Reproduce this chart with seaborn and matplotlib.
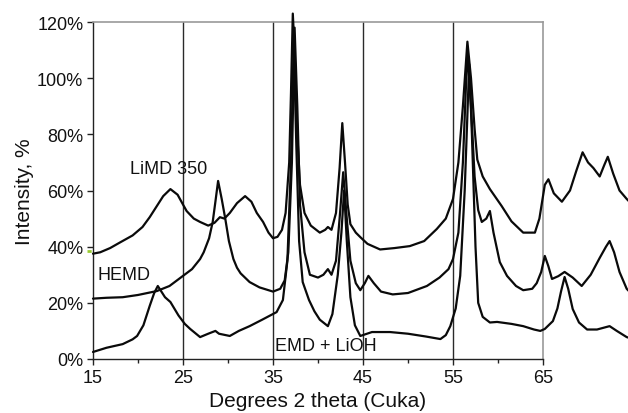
import matplotlib
matplotlib.use("Agg")
import matplotlib.pyplot as plt
import seaborn as sns
import pandas as pd
from matplotlib.ticker import MultipleLocator, PercentFormatter

# Diffraction scans, intensity in percent against 2-theta (degrees, Cu K-alpha)
limd_x = [15.0, 15.8, 16.9, 18.0, 19.4, 20.5, 21.3, 22.1, 22.8, 23.6, 24.4, 25.0,
          25.4, 26.2, 26.9, 27.8, 28.5, 29.1, 29.6, 30.2, 31.0, 31.9, 32.6, 33.2,
          33.9, 34.5, 35.0, 35.5, 36.0, 36.4, 36.8, 37.0, 37.2, 37.4, 37.7, 38.0,
          38.5, 39.2, 40.2, 40.8, 41.1, 41.5, 42.0, 42.4, 42.7, 43.0, 43.3, 43.6,
          44.2, 44.7, 45.5, 46.9, 48.5, 50.2, 51.8, 53.2, 54.2, 55.0, 55.6, 56.1,
          56.6, 57.0, 57.4, 57.7, 58.3, 59.1, 60.4, 61.5, 62.8, 64.1, 64.6, 65.2,
          65.6, 66.2, 67.1, 68.0, 68.7, 69.4, 70.0, 70.6, 71.3, 71.8, 72.2, 72.8,
          73.5, 74.3, 74.6]
limd_y = [37.5, 38.0, 39.5, 41.5, 44.0, 47.0, 50.5, 54.5, 58.0, 60.5, 58.5, 55.0,
          52.7, 50.0, 48.8, 47.5, 48.5, 50.5, 50.0, 52.0, 55.5, 58.0, 56.0, 52.0,
          48.8, 45.0, 43.0, 43.5, 46.0, 52.0, 70.0, 95.0, 123.0, 110.0, 80.0, 62.0,
          52.0, 47.5, 45.0, 46.0, 47.0, 46.0, 52.0, 68.0, 84.0, 70.0, 55.0, 48.0,
          45.0, 43.4, 41.0, 39.0, 39.5, 40.2, 42.0, 46.3, 50.0, 57.0, 70.0, 90.0,
          113.0, 100.0, 82.0, 71.0, 65.0, 60.5, 54.5, 49.0, 45.0, 45.0, 50.0, 62.0,
          64.0, 59.0, 56.0, 60.0, 67.0, 73.6, 70.0, 68.0, 65.0, 69.0, 72.0, 66.0,
          60.0, 57.0, 56.0]

hemd_x = [15.0, 16.5, 18.3, 20.0, 22.1, 23.5, 25.0, 26.0, 26.9, 27.3, 27.9, 28.3,
          28.6, 28.9, 29.3, 29.7, 30.1, 30.6, 31.0, 31.4, 32.4, 33.5, 35.0, 35.8,
          36.3, 36.7, 37.1, 37.4, 37.7, 38.0, 38.5, 39.1, 40.0, 40.6, 41.1, 41.5,
          42.0, 42.4, 42.8, 43.2, 43.6, 44.2, 44.7, 45.2, 45.6, 46.2, 47.0, 48.3,
          50.0, 52.1, 53.5, 54.5, 55.0, 55.6, 56.1, 56.6, 57.0, 57.4, 57.8, 58.2,
          58.7, 59.1, 59.5, 60.2, 61.0, 62.0, 62.8, 63.8, 64.3, 64.8, 65.2, 65.6,
          66.0, 66.7, 67.4, 68.3, 69.3, 70.3, 71.3, 72.0, 72.4, 72.9, 73.5, 74.3,
          74.6]
hemd_y = [21.5, 21.8, 22.0, 22.8, 24.2, 26.0, 29.6, 32.0, 35.6, 38.0, 43.0, 48.8,
          56.0, 63.4, 57.0, 49.9, 42.0, 35.6, 32.5, 30.5, 27.4, 25.5, 24.0, 25.0,
          28.0, 38.0, 70.0, 118.0, 90.0, 55.0, 38.0, 30.0, 29.0, 30.0, 32.0, 30.0,
          35.0, 50.0, 66.5, 50.0, 35.0, 27.0, 24.5, 27.0, 29.6, 27.0, 24.0, 23.0,
          23.5, 26.0, 29.0, 32.0, 35.6, 45.0, 70.0, 110.0, 90.0, 65.0, 53.0, 48.8,
          50.0, 52.7, 45.0, 34.5, 29.6, 26.0, 24.5, 25.0, 27.0, 31.0, 36.7, 33.0,
          28.5, 29.5, 31.0, 29.0, 26.0, 30.0, 36.0, 40.0, 42.0, 38.0, 31.0, 25.0,
          24.0]

emd_x = [15.0, 16.5, 18.3, 19.4, 19.9, 20.6, 21.3, 21.8, 22.2, 22.6, 23.0, 23.6,
         24.5, 25.2, 25.8, 26.9, 27.8, 28.6, 29.0, 30.2, 31.2, 32.4, 33.8, 35.4,
         36.1, 36.6, 37.0, 37.3, 37.6, 37.9, 38.3, 39.0, 39.6, 40.2, 41.1, 41.6,
         42.2, 42.6, 42.9, 43.2, 43.6, 44.1, 44.7, 46.0, 48.0, 50.0, 52.0, 53.6,
         54.2, 54.7, 55.3, 55.8, 56.3, 56.8, 57.1, 57.5, 57.8, 58.3, 59.1, 59.9,
         61.5, 62.8, 64.0, 64.7, 65.2, 66.1, 66.6, 67.0, 67.4, 67.8, 68.3, 69.0,
         69.9, 71.0, 72.4, 73.2, 74.3, 74.6]
emd_y = [2.5, 4.0, 5.3, 7.0, 8.2, 12.0, 18.9, 23.5, 26.0, 24.0, 22.0, 20.3,
         15.5, 12.5, 10.7, 7.8, 9.0, 10.0, 9.0, 8.2, 10.0, 11.7, 14.0, 16.7,
         21.0, 35.0, 70.0, 112.0, 75.0, 42.0, 27.4, 21.0, 17.0, 14.0, 11.7, 16.0,
         30.0, 45.0, 60.0, 42.0, 22.0, 12.0, 8.2, 9.6, 9.6, 9.0, 8.0, 7.1,
         8.5, 11.7, 18.0, 29.6, 60.0, 105.0, 80.0, 40.0, 20.0, 15.0, 13.0, 13.2,
         12.5, 11.7, 10.5, 10.0, 10.7, 13.5, 18.0, 24.0, 29.2, 25.0, 17.8, 13.0,
         10.5, 10.5, 11.7, 10.0, 7.8, 7.5]

series_names = ["LiMD 350", "HEMD", "EMD + LiOH"]
x_ticks = [15, 25, 35, 45, 55, 65]
y_ticks = [0, 20, 40, 60, 80, 100, 120]

frames = []
for name, xs, ys in zip(series_names, [limd_x, hemd_x, emd_x], [limd_y, hemd_y, emd_y]):
    frames.append(pd.DataFrame({"theta": xs, "intensity": ys, "sample": name}))
data = pd.concat(frames, ignore_index=True)

sns.set_theme(style="white")
plt.rcParams["font.family"] = ["Liberation Sans", "DejaVu Sans"]

fig = plt.figure(figsize=(6.28, 4.14), dpi=100)
ax = fig.add_axes([93 / 628, 1 - 360 / 414, 450 / 628, 337 / 414])

# Vertical reference lines at the labelled angles
for xv in x_ticks[1:-1]:
    ax.axvline(xv, color="#2a2a2a", lw=1.0, zorder=1)

for name in series_names:
    sns.lineplot(data=data[data["sample"] == name], x="theta", y="intensity",
                 ax=ax, color="#0a0a0a", lw=1.6, sort=False, estimator=None,
                 clip_on=False, zorder=3, legend=False)

ax.set_xlim(15, 65)
ax.set_ylim(0, 120)
ax.set_xticks(x_ticks)
ax.xaxis.set_minor_locator(MultipleLocator(5))
ax.set_yticks(y_ticks)
ax.yaxis.set_major_formatter(PercentFormatter(decimals=0))

for side in ["left", "bottom"]:
    ax.spines[side].set_color("#222222")
    ax.spines[side].set_linewidth(1.0)
for side in ["top", "right"]:
    ax.spines[side].set_color("#999999")
    ax.spines[side].set_linewidth(1.2)
    ax.spines[side].set_visible(True)

ax.tick_params(axis="both", which="major", direction="out", length=4, width=1,
               color="#222222", labelsize=13, labelcolor="#111111", pad=3,
               bottom=True, left=True)
ax.tick_params(axis="x", which="minor", direction="out", length=3, width=1,
               color="#222222", bottom=True)

ax.set_xlabel("Degrees 2 theta (Cuka)", fontsize=15, color="#111111", labelpad=4)
ax.set_ylabel("Intensity, %", fontsize=15, color="#111111", labelpad=2)

# Curve labels
ax.text(19.1, 68, "LiMD 350", fontsize=13, color="#111111", va="center", zorder=2)
ax.text(15.5, 30, "HEMD", fontsize=13, color="#111111", va="center", zorder=2)
ax.text(35.2, 4.8, "EMD + LiOH", fontsize=13, color="#111111", va="center", zorder=2)

# Small highlighted tick at the start of the top scan
ax.plot([14.3, 15.1], [38.5, 38.5], color="#9acd32", lw=2, ls=(0, (1.5, 1)),
        clip_on=False, zorder=4)

fig.savefig("out.png", dpi=100)
